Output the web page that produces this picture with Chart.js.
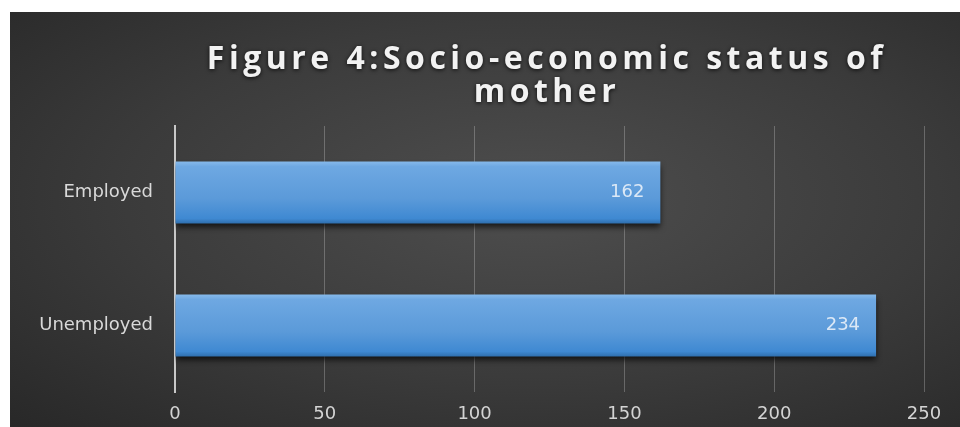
<!DOCTYPE html>
<html>
<head>
<meta charset="utf-8">
<script src="https://cdn.jsdelivr.net/npm/chart.js@4"></script>
<style>
  html, body { margin: 0; padding: 0; background: #fff; }
  #panel {
    position: absolute; left: 10px; top: 12px; width: 950px; height: 415px;
    background: radial-gradient(ellipse at 55% 45%, #4e4e4e 0%, #3b3b3b 55%, #282828 100%);
  }
  canvas { display: block; }
</style>
</head>
<body>
<div id="panel"><canvas id="grafico" width="950" height="415"></canvas></div>
<script>
const categorias = ['Employed', 'Unemployed'];
const valores = [162, 234];
const marcasX = [0, 50, 100, 150, 200, 250];
const tituloLineas = ['Figure 4:Socio-economic status of', 'mother'];

const fuenteTitulo = '"Open Sans", "DejaVu Sans", sans-serif';
const fuenteEjes = '"DejaVu Sans", "Open Sans", sans-serif';

// relleno azul con degradado vertical para cada barra
function rellenoBarra(ctx) {
    const chart = ctx.chart;
    const y = chart.scales && chart.scales.y;
    if (!chart.chartArea || !y) return '#5b9bd5';
    const centro = y.getPixelForValue(ctx.dataIndex);
    const banda = chart.chartArea.height / categorias.length;
    const mitad = banda * 0.465 / 2;
    const g = chart.ctx.createLinearGradient(0, centro - mitad, 0, centro + mitad);
    g.addColorStop(0, '#86b9ea');
    g.addColorStop(0.08, '#6ea8e2');
    g.addColorStop(0.6, '#5b9ad9');
    g.addColorStop(0.92, '#3f89d2');
    g.addColorStop(1, '#2f6fae');
    return g;
}

const sombraBarras = {
    id: 'sombraBarras',
    beforeDatasetsDraw(chart) {
        const ctx = chart.ctx;
        ctx.save();
        ctx.shadowColor = 'rgba(0, 0, 0, 0.7)';
        ctx.shadowBlur = 6;
        ctx.shadowOffsetY = 4;
    },
    afterDatasetsDraw(chart) {
        chart.ctx.restore();
    }
};

// valores dentro del extremo de cada barra
const etiquetasValor = {
    id: 'etiquetasValor',
    afterDatasetsDraw(chart) {
        const ctx = chart.ctx;
        const meta = chart.getDatasetMeta(0);
        ctx.save();
        ctx.font = '18px ' + fuenteEjes;
        ctx.fillStyle = '#dbe8f6';
        ctx.textAlign = 'right';
        ctx.textBaseline = 'middle';
        meta.data.forEach((barra, i) => {
            ctx.fillText(String(valores[i]), barra.x - 16, barra.y);
        });
        ctx.restore();
    }
};

const titulo = {
    id: 'titulo',
    afterDraw(chart) {
        const ctx = chart.ctx;
        ctx.save();
        ctx.font = 'bold 32px ' + fuenteTitulo;
        ctx.letterSpacing = '4.5px';
        ctx.fillStyle = '#f2f2f2';
        ctx.textAlign = 'center';
        ctx.textBaseline = 'alphabetic';
        ctx.shadowColor = 'rgba(0, 0, 0, 0.8)';
        ctx.shadowBlur = 4;
        ctx.shadowOffsetY = 1;
        const baselines = [57, 90];
        tituloLineas.forEach((linea, i) => {
            ctx.fillText(linea, 537, baselines[i]);
        });
        ctx.restore();
    }
};

new Chart(document.getElementById('grafico').getContext('2d'), {
    type: 'bar',
    data: {
        labels: categorias,
        datasets: [{
            data: valores,
            backgroundColor: rellenoBarra,
            borderWidth: 0,
            categoryPercentage: 1,
            barPercentage: 0.465
        }]
    },
    options: {
        indexAxis: 'y',
        responsive: false,
        animation: false,
        layout: { padding: { top: 114, right: 36, bottom: 0, left: 0 } },
        plugins: {
            legend: { display: false },
            tooltip: { enabled: false }
        },
        scales: {
            x: {
                min: 0,
                max: 250,
                afterBuildTicks(scale) {
                    scale.ticks = marcasX.map(v => ({ value: v }));
                },
                afterFit(scale) { scale.height = 35; },
                grid: {
                    color: ctx => ctx.tick && ctx.tick.value === 0 ? 'rgba(0,0,0,0)' : 'rgba(255, 255, 255, 0.24)',
                    lineWidth: 1,
                    drawTicks: false
                },
                border: { display: false },
                ticks: {
                    padding: 12,
                    color: '#d4d4d4',
                    font: { family: fuenteEjes, size: 18 }
                }
            },
            y: {
                afterFit(scale) { scale.width = 165; },
                grid: { display: false, drawTicks: false },
                border: { display: true, color: '#c8c8c8', width: 2 },
                ticks: {
                    padding: 22,
                    color: '#d9d9d9',
                    font: { family: fuenteEjes, size: 18 }
                }
            }
        }
    },
    plugins: [sombraBarras, etiquetasValor, titulo]
});
</script>
</body>
</html>
